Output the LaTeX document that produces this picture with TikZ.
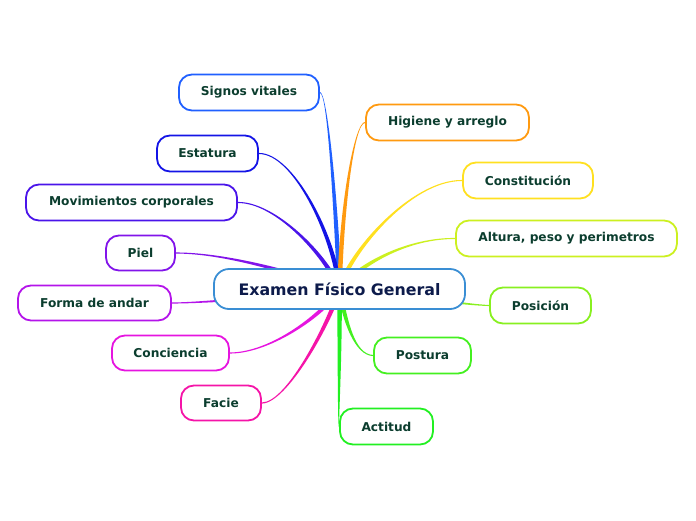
\documentclass[tikz,border=0pt]{standalone}
\usepackage{fontspec}
\setmainfont{DejaVu Sans}
\usetikzlibrary{calc}
\pgfdeclarelayer{bg}
\pgfsetlayers{bg,main}
\definecolor{txt}{HTML}{0B3D2E}
\definecolor{maintxt}{HTML}{0D1B4B}
\definecolor{mainc}{HTML}{3A8ED4}
\definecolor{cSig}{HTML}{2060FF}
\definecolor{cHig}{HTML}{FF9A10}
\definecolor{cEst}{HTML}{1414E6}
\definecolor{cCon}{HTML}{FFE020}
\definecolor{cMov}{HTML}{4A14EA}
\definecolor{cAlt}{HTML}{CCF020}
\definecolor{cPie}{HTML}{8214EA}
\definecolor{cFor}{HTML}{B414EA}
\definecolor{cPos}{HTML}{88F020}
\definecolor{cConc}{HTML}{E614E0}
\definecolor{cPost}{HTML}{44F020}
\definecolor{cFac}{HTML}{F514A8}
\definecolor{cAct}{HTML}{22F022}
\newcommand\branch[4]{%
  \coordinate (R) at (main.center);
  \coordinate (A) at #3;
  \coordinate (B) at #4;
  \coordinate (E) at #2;
  \coordinate (P1) at ($(R)!2.3pt!90:(A)$);
  \coordinate (P2) at ($(R)!2.3pt!-90:(A)$);
  \coordinate (Q1) at ($(E)!0.55pt!-90:(B)$);
  \coordinate (Q2) at ($(E)!0.55pt!90:(B)$);
  \fill[#1] (P1) .. controls ($(A)+(P1)-(R)$) and ($(B)+(Q1)-(E)$) .. (Q1)
    -- (Q2) .. controls ($(B)+(Q2)-(E)$) and ($(A)+(P2)-(R)$) .. (P2) -- cycle;
}
\begin{document}
\begin{tikzpicture}[x=1pt,y=-1pt,
  box/.style={draw, line width=1.8pt, rounded corners=13pt, fill=white,
    minimum height=36pt, inner sep=0pt, text=txt,
    font=\fontsize{12.2}{14}\selectfont\bfseries},
  mainbox/.style={draw=mainc, line width=1.8pt, rounded corners=15pt, fill=white,
    minimum height=40pt, minimum width=251pt, inner sep=0pt, text=maintxt,
    font=\fontsize{15.8}{18}\selectfont\bfseries}]
\useasboundingbox (0,0) rectangle (696,520);

\node[mainbox] (main) at (339.5,289) {Examen Físico General};

\node[box, draw=cSig, minimum width=140pt] (sig) at (249,92.5) {Signos vitales};
\node[box, draw=cHig, minimum width=163pt] (hig) at (447.5,122.5) {Higiene y arreglo};
\node[box, draw=cEst, minimum width=101pt] (est) at (207.5,153.5) {Estatura};
\node[box, draw=cCon, minimum width=130pt] (con) at (528,180.5) {Constitución};
\node[box, draw=cMov, minimum width=211pt] (mov) at (131.5,202.5) {Movimientos corporales};
\node[box, draw=cAlt, minimum width=221pt] (alt) at (566.5,238.5) {Altura, peso y perimetros};
\node[box, draw=cPie, minimum width=69pt, minimum height=35pt] (pie) at (140.5,253) {Piel};
\node[box, draw=cFor, minimum width=153pt, minimum height=35pt] (for) at (94.5,303) {Forma de andar};
\node[box, draw=cPos, minimum width=101pt] (pos) at (540.5,305.5) {Posición};
\node[box, draw=cConc, minimum width=117pt, minimum height=35pt] (conc) at (170.5,353) {Conciencia};
\node[box, draw=cPost, minimum width=97pt] (post) at (422.5,355.5) {Postura};
\node[box, draw=cFac, minimum width=80pt, minimum height=35pt] (fac) at (221,403) {Facie};
\node[box, draw=cAct, minimum width=93pt] (act) at (386.5,426.5) {Actitud};

\begin{pgfonlayer}{bg}
\fill[white] (0,0) rectangle (696,520);
\branch{cSig}{(sig.east)}{(335,190)}{(327,92)}
\branch{cHig}{(hig.west)}{(342,200)}{(355,122)}
\branch{cEst}{(est.east)}{(334,235)}{(293,153)}
\branch{cCon}{(con.west)}{(348,255)}{(410,180)}
\branch{cMov}{(mov.east)}{(326,255)}{(275,202)}
\branch{cAlt}{(alt.west)}{(362,262)}{(410,238)}
\branch{cPie}{(pie.east)}{(300,275)}{(228,253)}
\branch{cFor}{(for.east)}{(280,297)}{(200,303)}
\branch{cPos}{(pos.west)}{(420,298)}{(470,305)}
\branch{cConc}{(conc.east)}{(326,312)}{(272,353)}
\branch{cPost}{(post.west)}{(345,322)}{(355,355)}
\branch{cFac}{(fac.east)}{(330,322)}{(287,403)}
\branch{cAct}{(act.west)}{(340,360)}{(338,426)}
\end{pgfonlayer}
\end{tikzpicture}
\end{document}
